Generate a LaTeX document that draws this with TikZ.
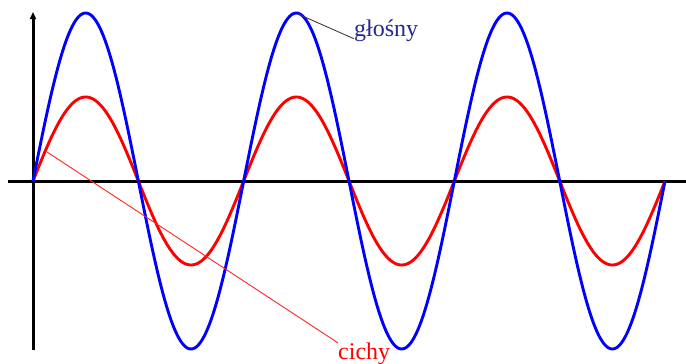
\documentclass[tikz,border=0pt]{standalone}
\usepackage{fontspec}
\setmainfont{Liberation Serif}
\usetikzlibrary{arrows.meta}
\definecolor{lbl}{RGB}{40,40,140}
\tikzset{
  axisline/.style={line width=3pt, black},
  wave/.style={line width=2.9pt, line join=round},
  pointer/.style={line width=0.9pt},
  lab/.style={font=\fontsize{24}{28}\selectfont, inner sep=0pt, anchor=west}
}
\begin{document}
\begin{tikzpicture}[x=1pt,y=-1pt]
\useasboundingbox[fill=white] (0,0) rectangle (686,364);
% axes
\coordinate (xl) at (8,181);
\coordinate (xr) at (686,181);
\coordinate (yb) at (33,350);
\coordinate (yt) at (33,12);
\draw[axisline] (xl) -- (xr);
\draw[axisline, -{Triangle[length=7pt,width=6pt]}] (yb) -- (yt);
% waves
\draw[wave, red] plot[domain=33:665, samples=400, smooth] (\x, {181-84*sin((\x-33)*1.70879)});
\draw[wave, blue] plot[domain=33:665, samples=400, smooth] (\x, {181-168*sin((\x-33)*1.70879)});
% labels
\node[lab, text=lbl] (loud) at (354,31) {głośny};
\node[lab, text=red] (quiet) at (338,354) {cichy};
\coordinate (peak) at (298,14);
\coordinate (rpt) at (47,152);
\draw[pointer, black!75] (peak) -- ([yshift=-2pt]loud.base west);
\draw[pointer, red!85] (rpt) -- (quiet.north west);
\end{tikzpicture}
\end{document}
